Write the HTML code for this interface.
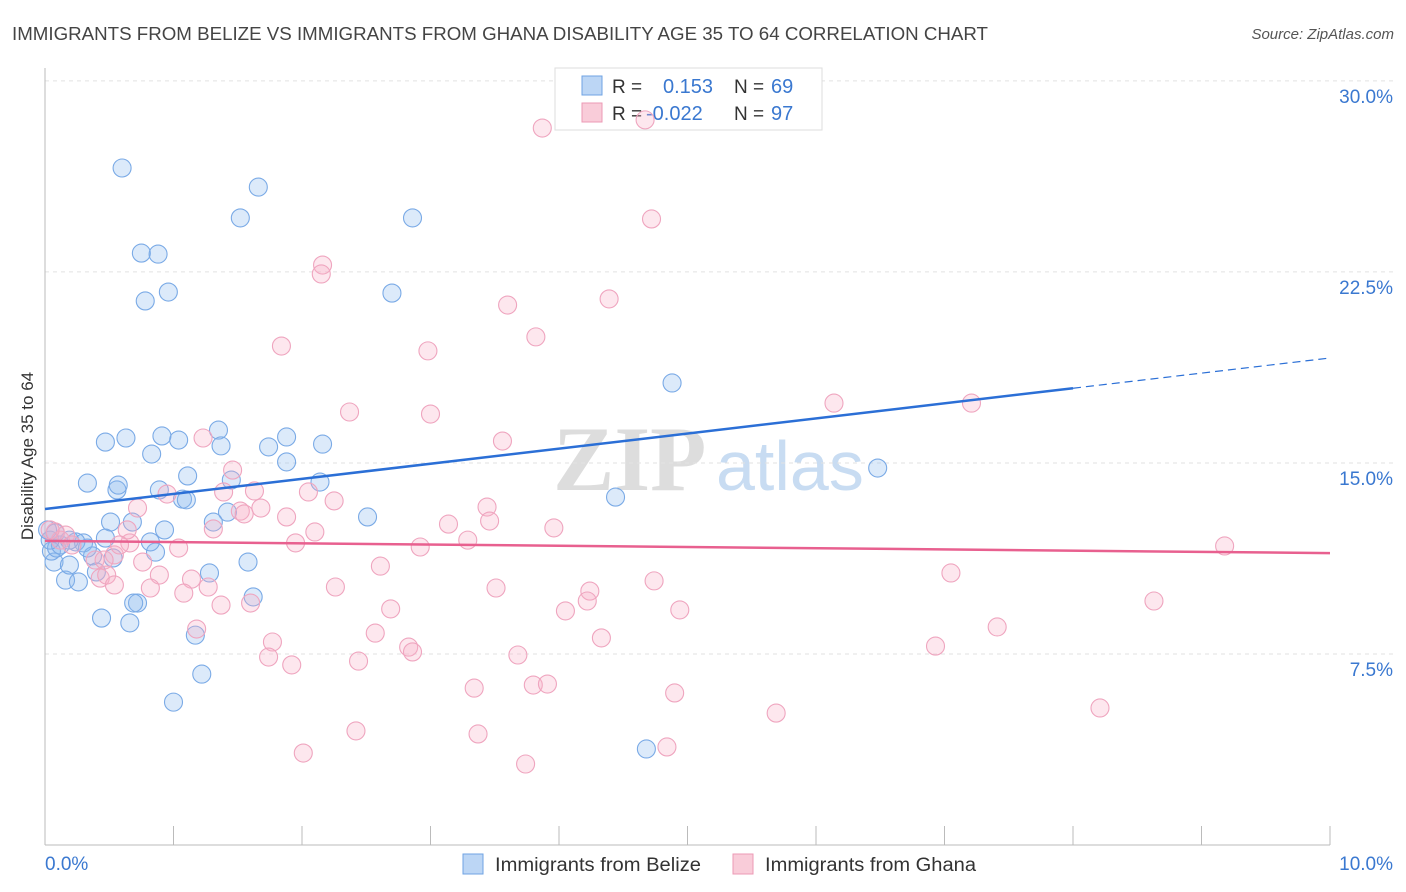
<!DOCTYPE html>
<html><head><meta charset="utf-8"><style>
body{margin:0;background:#fff;font-family:"Liberation Sans",sans-serif}
svg{display:block}
</style></head><body>
<svg id="chart" width="1406" height="892" xmlns="http://www.w3.org/2000/svg">
<text x="12" y="40" font-size="18" fill="#444" textLength="976" lengthAdjust="spacingAndGlyphs">IMMIGRANTS FROM BELIZE VS IMMIGRANTS FROM GHANA DISABILITY AGE 35 TO 64 CORRELATION CHART</text>
<text x="1394" y="39" font-size="15" fill="#555" font-style="italic" text-anchor="end">Source: ZipAtlas.com</text>
<g>
<text x="553" y="490" font-family="Liberation Serif" font-size="92" fill="#ddd" font-weight="bold">ZIP</text>
<text x="716" y="490" font-size="70" fill="#c8dcf2">atlas</text>
</g>
<g id="grid"></g>
<g id="axes"></g>
<g>
<rect x="555" y="68" width="267" height="62" fill="#fff" stroke="#ddd"/>
<rect x="582" y="76" width="20" height="19" fill="#bcd6f5" stroke="#6fa3e3"/>
<rect x="582" y="103" width="20" height="19" fill="#f9ccd9" stroke="#ec9ab5"/>
<text x="612" y="93" font-size="19" fill="#333">R = </text><text x="663" y="93" font-size="20" fill="#3a78d0">0.153</text>
<text x="734" y="93" font-size="19" fill="#333">N = </text><text x="771" y="93" font-size="20" fill="#3a78d0">69</text>
<text x="612" y="120" font-size="19" fill="#333">R = </text><text x="646" y="120" font-size="20" fill="#3a78d0">-0.022</text>
<text x="734" y="120" font-size="19" fill="#333">N = </text><text x="771" y="120" font-size="20" fill="#3a78d0">97</text>
</g>
<g id="pts"></g>
<g id="trends"></g>
<text transform="translate(33,456) rotate(-90)" font-size="17" fill="#333" text-anchor="middle">Disability Age 35 to 64</text>
<g>
<rect x="463" y="854" width="20" height="20" fill="#bcd6f5" stroke="#6fa3e3"/>
<text x="495" y="871" font-size="19" fill="#333" textLength="206" lengthAdjust="spacingAndGlyphs">Immigrants from Belize</text>
<rect x="733" y="854" width="20" height="20" fill="#f9ccd9" stroke="#ec9ab5"/>
<text x="765" y="871" font-size="19" fill="#333" textLength="211" lengthAdjust="spacingAndGlyphs">Immigrants from Ghana</text>
</g>
</svg>
<script>
const belizeX=[0.60,1.66,1.52,2.86,0.75,0.88,0.96,0.78,2.70,4.88,6.48,4.44,4.68,1.00,1.22,1.17,0.66,0.44,0.72,0.69,0.16,0.26,0.07,0.05,0.09,0.19,0.33,0.47,0.63,0.91,1.04,0.83,1.35,1.37,1.11,0.89,1.07,1.10,1.74,1.88,1.88,2.16,2.14,1.45,1.42,1.31,0.93,0.68,0.51,0.47,0.56,0.57,0.86,1.58,1.62,1.28,2.51,0.82,0.30,0.24,0.37,0.53,0.40,0.12,0.04,0.02,0.19,0.33,0.08];
const belizeY=[26.58,25.83,24.62,24.62,23.24,23.20,21.71,21.36,21.67,18.14,14.80,13.66,3.77,5.61,6.71,8.24,8.72,8.91,9.50,9.50,10.40,10.33,11.11,11.54,11.66,10.99,14.21,15.82,15.98,16.06,15.90,15.35,16.29,15.67,14.49,13.94,13.58,13.55,15.63,16.02,15.04,15.74,14.25,14.33,13.07,12.68,12.37,12.68,12.68,12.05,13.94,14.13,11.50,11.11,9.74,10.68,12.88,11.90,11.86,11.90,11.35,11.27,10.72,11.78,11.97,12.37,11.97,11.66,12.25];
const ghanaX=[3.87,4.67,4.72,2.16,2.15,3.60,4.39,3.82,1.84,2.98,2.37,3.00,3.56,6.14,7.21,1.23,1.46,0.95,0.72,1.39,1.63,1.68,2.05,2.25,1.52,1.55,1.31,1.88,2.10,1.95,3.14,3.44,3.46,3.96,3.29,2.92,9.18,1.04,0.66,0.64,0.54,0.76,0.39,0.43,0.48,0.89,1.14,1.27,0.82,1.08,0.54,2.26,2.61,1.37,1.60,1.18,2.69,3.51,4.24,4.22,4.05,4.74,4.94,7.05,8.63,7.41,6.93,4.33,2.57,2.83,2.86,1.77,1.74,1.92,2.44,3.68,3.34,3.80,3.91,4.90,5.69,8.21,2.42,3.37,2.01,3.74,4.84,0.08,0.12,0.16,0.04,0.21,0.58,0.46];
const ghanaY=[28.15,28.47,24.58,22.77,22.42,21.20,21.44,19.95,19.59,19.40,17.00,16.92,15.86,17.35,17.35,15.98,14.72,13.78,13.23,13.86,13.90,13.23,13.86,13.51,13.11,13.00,12.41,12.88,12.29,11.86,12.60,13.27,12.72,12.45,11.97,11.70,11.74,11.66,11.86,12.37,11.39,11.11,11.19,10.48,10.60,10.60,10.44,10.13,10.09,9.89,10.21,10.13,10.95,9.42,9.50,8.48,9.27,10.09,9.97,9.58,9.19,10.37,9.23,10.68,9.58,8.56,7.81,8.13,8.32,7.77,7.58,7.97,7.38,7.07,7.22,7.46,6.16,6.28,6.32,5.97,5.18,5.38,4.48,4.36,3.61,3.18,3.85,12.29,11.97,12.17,12.37,11.78,11.78,11.19];
const yTicks=[7.5,15.0,22.5,30.0];
const yTickLabels=["7.5%","15.0%","22.5%","30.0%"];
const xTicks=[0,1,2,3,4,5,6,7,8,9,10];
const belizeTrend=[13.19,19.12];
const belizeSolidEnd=8.0;
const ghanaTrend=[11.94,11.46];

const X=v=>45+v*128.5;
const Y=v=>845-v*25.47;
const NS="http://www.w3.org/2000/svg";
function mk(tag,attrs,parent){const e=document.createElementNS(NS,tag);for(const k in attrs)e.setAttribute(k,attrs[k]);parent.appendChild(e);return e;}
const grid=document.getElementById('grid'),axes=document.getElementById('axes'),pts=document.getElementById('pts'),tr=document.getElementById('trends');
yTicks.forEach((t,i)=>{
  const l=mk('line',{x1:45,x2:1393,y1:Y(t),y2:Y(t),stroke:'#e2e2e2','stroke-dasharray':'4,4'},grid);
  
  
  const tx=mk('text',{x:1393,y:Y(t)+22,'font-size':19,fill:'#3a78d0','text-anchor':'end'},axes);
  tx.textContent=yTickLabels[i];
  
  
});
mk('line',{x1:45,x2:45,y1:68,y2:845,stroke:'#bbb'},axes);
mk('line',{x1:45,x2:1330,y1:845,y2:845,stroke:'#bbb'},axes);
xTicks.forEach(t=>{
  const l=mk('line',{x1:X(t),x2:X(t),y1:826,y2:845,stroke:'#bbb'},axes);
  
  
});
const x0=mk('text',{x:45,y:870,'font-size':19,fill:'#3a78d0'},axes);x0.textContent="0.0%";


const x1=mk('text',{x:1393,y:870,'font-size':19,fill:'#3a78d0','text-anchor':'end'},axes);x1.textContent="10.0%";


belizeX.forEach((v,i)=>{
  const c=mk('circle',{cx:X(v),cy:Y(belizeY[i]),r:9,fill:'rgba(140,185,240,0.3)',stroke:'#7aaae6','stroke-width':1.1},pts);
  
  
});
ghanaX.forEach((v,i)=>{
  const c=mk('circle',{cx:X(v),cy:Y(ghanaY[i]),r:9,fill:'rgba(248,175,200,0.3)',stroke:'#efa5bf','stroke-width':1.1},pts);
  
  
});
const bAt=x=>belizeTrend[0]+(belizeTrend[1]-belizeTrend[0])*x/10;
const b1=mk('line',{x1:X(0),y1:Y(bAt(0)),x2:X(belizeSolidEnd),y2:Y(bAt(belizeSolidEnd)),stroke:'#2b6fd6','stroke-width':2.5},tr);


const b2=mk('line',{x1:X(belizeSolidEnd),y1:Y(bAt(belizeSolidEnd)),x2:X(10),y2:Y(bAt(10)),stroke:'#2b6fd6','stroke-width':1.2,'stroke-dasharray':'8,5'},tr);


const g1=mk('line',{x1:X(0),y1:Y(ghanaTrend[0]),x2:X(10),y2:Y(ghanaTrend[1]),stroke:'#e8608f','stroke-width':2.5},tr);


</script>
</body></html>
